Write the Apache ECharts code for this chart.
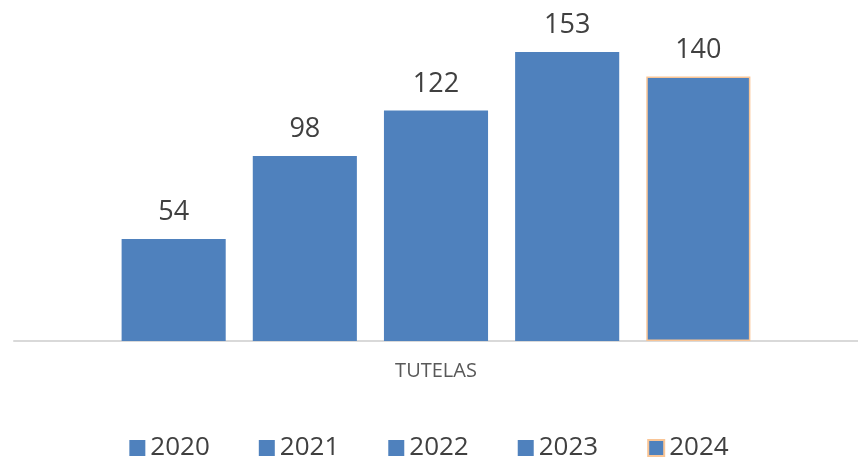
<!DOCTYPE html>
<html>
<head>
<meta charset="utf-8">
<script src="https://cdn.jsdelivr.net/npm/echarts@6/dist/echarts.min.js"></script>
<style>
  html, body { margin: 0; padding: 0; background: #fff; }
  #chart { width: 858px; height: 460px; }
</style>
</head>
<body>
<div id="chart"></div>
<script>
// datos
var categories = ['TUTELAS'];
var years = ['2020', '2021', '2022', '2023', '2024'];
var values = [54, 98, 122, 153, 140];

var chart = echarts.init(document.getElementById('chart'));

var series = years.map(function (y, i) {
    var last = i === years.length - 1;
    return {
        name: y,
        type: 'bar',
        data: [values[i]],
        barGap: '26%',
        barCategoryGap: '25.5%',
        itemStyle: {
            color: '#4f81bd',
            borderColor: last ? '#f9c596' : '#4f81bd',
            borderWidth: last ? 1.5 : 0
        },
        label: {
            show: true,
            position: 'top',
            distance: 13,
            color: '#404040',
            fontSize: 27,
            fontFamily: 'Open Sans'
        }
    };
});

var option = {
    animation: false,
    grid: {
        left: 14,
        right: 0,
        top: 1,
        bottom: 119
    },
    legend: {
        top: 430,
        left: 'center',
        itemWidth: 16,
        itemHeight: 16,
        itemGap: 49,
        icon: 'rect',
        textStyle: {
            color: '#404040',
            fontSize: 26,
            fontFamily: 'Open Sans'
        },
        data: years
    },
    xAxis: {
        type: 'category',
        data: categories,
        axisTick: { show: false },
        axisLine: { lineStyle: { color: '#d9d9d9', width: 2 } },
        axisLabel: {
            margin: 20,
            color: '#595959',
            fontSize: 20,
            fontFamily: 'Open Sans'
        }
    },
    yAxis: {
        type: 'value',
        min: 0,
        max: 180,
        show: false,
        splitLine: { show: false }
    },
    series: series
};
chart.setOption(option);
</script>
</body>
</html>
